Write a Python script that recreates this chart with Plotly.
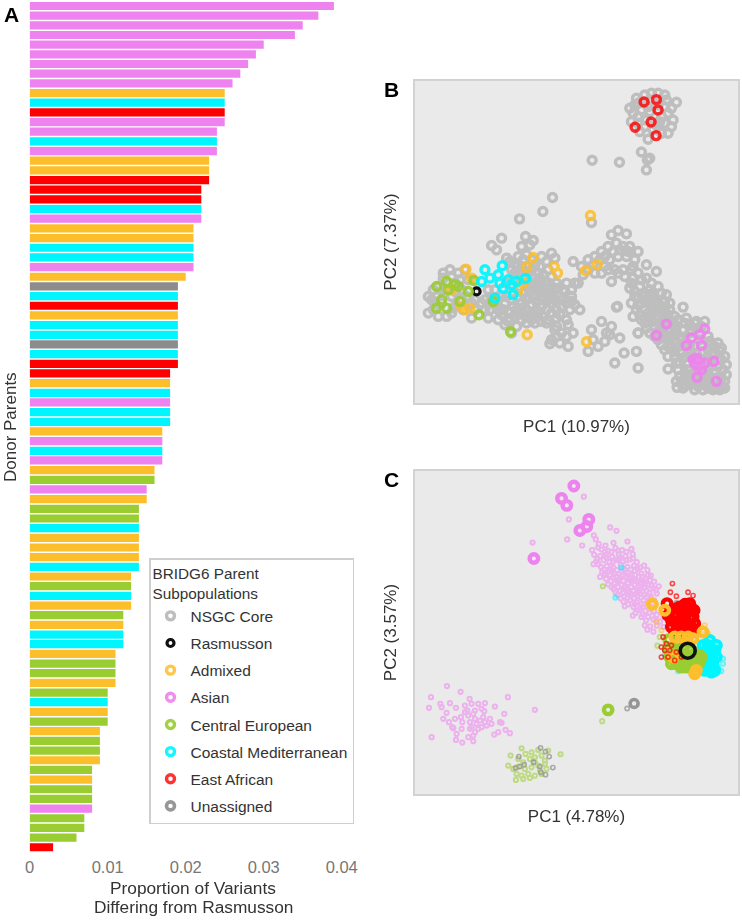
import plotly.graph_objects as go

W = 742
H = 920
FONT = 'Liberation Sans'

colors = {
    'core': '#BEBEBE', 'ras': '#111111', 'adm': '#FDBE2B', 'asn': '#EE82EE',
    'ceu': '#9ACD32', 'med': '#00F5FF', 'eaf': '#FF0000', 'una': '#8C8C8C',
}

# panel A, top to bottom
bar_values = [
    .039, .037, .035, .034, .030, .029, .028, .027, .026, .025, .025, .025, .025, .024, .024, .024,
    .023, .023, .023, .022, .022, .022, .022, .021, .021, .021, .021, .021, .020, .019, .019, .019,
    .019, .019, .019, .019, .019, .019, .018, .018, .018, .018, .018, .018, .017, .017, .017, .017,
    .016, .016, .015, .015, .014, .014, .014, .014, .014, .014, .014, .013, .013, .013, .013, .012,
    .012, .012, .012, .011, .011, .011, .011, .010, .010, .010, .010, .009, .009, .009, .009, .008,
    .008, .008, .008, .008, .007, .007, .006, .003,
]
bar_groups = [
    'asn', 'asn', 'asn', 'asn', 'asn', 'asn', 'asn', 'asn', 'asn', 'adm', 'med', 'eaf', 'asn', 'asn', 'med', 'asn',
    'adm', 'adm', 'eaf', 'eaf', 'eaf', 'med', 'asn', 'adm', 'adm', 'med', 'med', 'asn', 'adm', 'una', 'med', 'eaf',
    'adm', 'med', 'med', 'una', 'med', 'eaf', 'eaf', 'adm', 'med', 'asn', 'med', 'med', 'adm', 'asn', 'med', 'asn',
    'adm', 'ceu', 'asn', 'adm', 'ceu', 'ceu', 'med', 'adm', 'adm', 'adm', 'med', 'adm', 'ceu', 'med', 'adm', 'ceu',
    'adm', 'med', 'med', 'adm', 'ceu', 'ceu', 'adm', 'ceu', 'med', 'adm', 'ceu', 'adm', 'ceu', 'ceu', 'adm', 'ceu',
    'adm', 'ceu', 'ceu', 'asn', 'ceu', 'ceu', 'ceu', 'eaf',
]
bar_ticks = [0, 0.01, 0.02, 0.03, 0.04]
bar_ticklabels = ['0', '0.01', '0.02', '0.03', '0.04']

# panel B, PC scores (arbitrary units, the axes have no ticks)
b_core = [
    (785,85),(810,75),(870,75),(905,97),(780,105),(830,90),(800,120),(870,110),(770,155),(790,140),(815,150),
    (860,140),(890,170),(795,185),(820,208),(845,165),(880,130),(850,70),(775,130),(825,125),(835,180),(895,150),
    (800,95),(850,105),(820,110),(790,160),(855,155),(765,115),(890,115),(875,90),(830,70),(810,170),(870,160),
    (880,190),(790,100),(860,190),
    (800,246),(825,265),(815,300),(818,270),(652,271),(734,277),(533,383),(504,425),(434,447),(650,458),
    (160,680),(160,730),(175,720),(190,650),(205,610),(225,600),(250,610),(240,640),(200,700),(170,690),(290,745),
    (265,720),(230,730),(290,700),(260,660),(280,630),(230,680),(300,720),(320,700),(210,660),
    (175,660),(185,680),(190,740),(215,740),(205,625),(230,620),(255,630),(260,690),(245,705),(275,680),(300,690),
    (180,700),(240,665),(270,600),(235,715),
    (452,500),(475,512),(440,530),(465,525),(350,527),(380,505),(365,540),(430,560),(455,555),(420,580),(395,565),
    (440,590),(470,600),(495,590),(480,625),(505,615),(530,550),(540,565),(520,600),(545,640),(575,640),(600,640),
    (625,615),(595,575),(520,640),(495,650),(470,650),(445,670),(475,680),(505,680),(530,670),(555,680),(575,700),
    (590,695),(615,720),(585,720),(560,710),(530,700),(500,710),(470,705),(440,700),(415,710),(390,700),(370,720),
    (345,720),(370,750),(390,765),(420,740),(445,735),(475,735),(505,740),(530,730),(555,735),(575,750),(425,770),
    (455,760),(410,790),(400,755),(445,620),(340,660),(420,610),(395,680),(360,660),(330,690),(470,570),(500,560),
    (330,720),(350,690),(380,680),(410,690),(430,680),(455,690),(485,695),(515,695),(545,695),(565,660),(530,650),
    (500,665),(465,665),(435,650),(425,720),(455,720),(485,720),(515,720),(545,720),(400,725),(380,735),(440,750),
    (470,750),(500,755),(360,705),(340,745),(410,600),(435,605),(455,640),(480,640),(510,640),(490,610),(460,610),
    (425,590),(405,575),(445,570),(480,585),(515,575),(550,655),(570,665),(590,660),(610,640),
    (500,690),(520,680),(540,660),(560,690),(590,680),(600,705),(545,745),(520,750),(490,730),(460,735),(430,730),
    (405,745),(385,720),(365,690),(440,715),(415,670),(395,640),(460,680),(490,665),(510,655),(530,620),(500,630),
    (470,620),(415,630),(380,720),(480,760),(515,760),
    (620,590),(640,570),(660,560),(680,545),(700,530),(710,495),(730,482),(755,492),(725,520),(745,530),(765,530),
    (790,545),(780,570),(755,560),(730,560),(705,570),(690,590),(720,600),(745,600),(710,635),(770,600),(815,585),
    (845,605),(790,610),(815,625),(765,655),(795,650),(825,660),(850,650),(790,685),(815,690),(840,685),(875,675),
    (785,720),(810,720),(835,715),(860,710),(885,700),(775,740),(800,750),(825,745),(850,740),(880,735),(790,790),
    (815,775),(840,770),(865,780),(895,760),(925,712),(850,810),(880,810),(905,790),(910,750),(935,745),(965,755),
    (640,600),(655,585),(675,570),(660,610),(690,560),(715,545),(735,540),(760,545),(775,590),(750,620),(730,610),
    (700,600),(680,610),(775,625),(800,630),(830,640),(780,665),(810,670),(835,670),(860,670),(800,700),(825,700),
    (850,700),(870,695),(795,735),(820,730),(845,725),(870,725),(810,760),(835,755),(860,755),(880,760),(825,790),
    (850,785),(880,785),(860,825),(880,830),(905,820),(900,860),(880,860),(925,780),(945,765),(970,775),(930,830),
    (770,700),(790,705),(805,680),(830,680),(850,720),(870,740),(885,720),(900,740),(860,790),(840,800),(870,800),
    (890,800),(870,760),(885,775),(905,770),(890,830),(900,845),(910,830),(780,680),(770,640),
    (990,755),(870,840),(895,840),(880,898),(920,810),(950,780),(1000,800),(1030,820),(1020,850),(1000,840),(945,850),
    (920,850),(915,880),(940,880),(1040,870),(1045,900),(1000,900),(1020,905),(1000,930),(930,910),(950,920),(920,935),
    (945,945),(970,950),(1000,955),(1025,955),(1050,955),(907,953),(985,925),(960,905),(1040,925),(725,712),(728,710),
    (960,830),(1010,825),(1035,845),(1015,875),(1030,890),(1000,870),(940,900),(910,900),(960,930),(1010,945),
    (1035,945),(935,925),
    (900,770),(915,800),(900,810),(930,760),(945,790),(960,760),(980,770),(975,810),(1005,815),(1020,830),(1040,835),
    (1050,860),(1055,885),(1030,870),(1010,855),(985,845),(965,850),(945,825),(925,865),(905,880),(915,920),(905,935),
    (930,945),(950,935),(975,935),(1000,915),(1025,925),(1050,935),(1055,915),(1045,950),(985,960),(960,960),(1015,960),
    (1035,960),(925,955),(950,860),(970,870),(935,860),(1010,890),(985,905),
    (525,822),(540,780),(580,765),(595,790),(580,830),(545,800),(650,780),(680,755),(710,770),(735,805),(690,815),
    (640,845),(670,830),(720,880),(748,850),(785,845),(790,895),(790,790),(560,790),(530,810),(555,820),(545,770),
    (575,800),(695,790),(705,795),(655,810),
]
b_ras = [(305,665)]
b_adm = [
    (273,598),(290,625),(455,592),(475,563),(538,590),(548,610),(632,603),(667,585),(647,437),(457,795),(635,816),
    (430,660),(260,710),(285,715),(270,720),(230,660),(445,640),
]
b_asn = [
    (845,797),(875,763),(935,827),(990,777),(975,795),(950,805),(980,827),(1018,875),(1025,935),(967,923),(960,880),
    (975,880),(990,880),(970,895),(955,870),(980,900),(965,865),
]
b_ceu = [
    (185,650),(215,635),(240,645),(200,690),(185,715),(215,715),(255,695),(280,665),(297,632),(312,735),(355,695),
    (407,786),(220,660),(250,650),
]
b_med = [
    (330,600),(382,588),(320,635),(345,625),(375,640),(400,630),(425,635),(452,626),(360,685),(415,675),(410,645),
    (385,655),(370,615),
]
b_eaf = [(808,96),(845,89),(850,120),(829,156),(781,172),(844,197)]

# panel C, small dots
c_asn_small = [
    (663,238),(657,226),(672,252),(692,256),(716,248),(758,244),(652,270),(680,268),(700,272),(722,264),(742,270),(770,266),
    (658,284),(676,288),(694,284),(712,290),(732,282),(752,288),(774,282),(664,304),(686,300),(704,306),(722,298),(744,304),
    (764,298),(786,306),(656,312),(678,320),(696,318),(716,322),(738,314),(758,320),(778,316),(796,322),(682,336),(702,334),
    (720,340),(740,332),(760,338),(780,332),(800,340),(818,330),(676,350),(694,356),(714,352),(732,358),(752,350),(772,356),
    (792,350),(812,356),(828,346),(700,372),(720,368),(740,374),(760,368),(780,374),(800,368),(820,374),(838,364),(716,386),
    (736,392),(756,386),(776,392),(796,386),(816,392),(836,384),(852,378),(728,404),(748,408),(768,402),(788,408),(808,402),
    (828,408),(846,400),(746,424),(766,420),(786,426),(806,420),(826,416),(750,438),(776,440),(796,444),(816,438),(838,452),
    (782,458),(804,462),(824,458),(846,464),(866,470),(774,466),(814,480),(836,478),(856,484),(826,498),(846,496),(866,500),
    (818,508),(836,514),(473,247),(627,110),(582,178),(577,238),(622,256),(706,202),(725,212),(730,300),(735,296),(745,345),
    (770,380),(790,395),(710,330),(690,340),(750,330),(770,345),(790,365),(810,380),(730,365),(760,395),(805,440),(830,440),
    (670,262),(690,275),(710,275),(730,272),(755,275),(668,295),(695,292),(715,305),(735,292),(755,300),(775,295),(670,312),
    (688,328),(707,326),(727,330),(748,326),(768,328),(788,326),(808,316),(688,345),(706,345),(724,348),(742,346),(762,346),
    (782,344),(802,350),(820,345),(708,362),(726,360),(746,362),(766,360),(786,360),(806,362),(826,360),(710,380),(730,380),
    (750,380),(770,362),(790,380),(810,372),(830,376),(722,396),(744,398),(764,396),(784,400),(804,394),(824,398),(844,390),
    (738,415),(758,414),(778,414),(798,412),(818,412),(838,420),(760,432),(780,432),(800,432),(820,428),(790,450),(812,452),
    (832,466),(800,470),(820,470),(845,480),(810,495),
    (216,677),(257,694),(168,710),(196,730),(399,710),(162,742),(200,740),(225,728),(243,742),(284,715),(270,735),(290,730),
    (310,730),(330,728),(320,745),(300,750),(360,738),(270,755),(280,765),(295,760),(215,757),(240,775),(262,785),(285,785),
    (305,790),(325,770),(345,775),(388,760),(350,790),(380,787),(480,748),(222,785),(232,800),(260,805),(245,820),(290,800),
    (300,815),(320,800),(335,795),(295,825),(170,830),(243,838),(262,846),(295,842),(280,830),(358,822),(370,815),(392,808),
    (405,818),(375,785),(328,752),(277,750),(300,775),(315,780),(330,785),(205,775),(258,770),(235,803),(285,805),(310,805),
]
c_ceu_small = [
    (440,863),(557,881),(407,885),(452,880),(470,875),(490,868),(500,885),(520,870),(430,895),(445,905),(465,895),(480,890),
    (510,900),(400,915),(415,925),(430,918),(450,925),(470,920),(490,915),(510,910),(425,940),(440,945),(460,940),(480,945),
    (500,940),(423,958),(465,952),(445,955),(495,930),(515,925),(480,905),(682,782),(684,378),(848,556),(855,530),
]
c_una_small = [
    (432,888),(422,922),(435,918),(448,912),(476,905),(495,918),(498,935),(512,942),(534,921),(523,888),(512,873),(497,862),
    (757,744),(905,428),
]
c_med_small = [(740,322),(722,412),(1045,595),(1040,632),(1045,610),(1030,620),(1030,570),(1022,640),(870,585),(910,632)]
c_adm_small = [(990,495),(985,510),(1000,520),(845,485),(860,510),(1000,545),(870,560),(925,625)]
c_eaf_small = [
    (893,370),(905,408),(955,406),(940,396),(887,396),(865,530),(875,550),(870,570),(885,570),(880,590),(900,600),(860,560),
    (890,555),(920,590),(905,575),(860,590),
]

# panel C, large rings
c_adm = [(833,432),(870,450),(940,530),(920,530),(965,630),(985,515),(895,590),(955,535),(900,530),(960,640)]
c_med = [
    (1000,555),(990,580),(1010,580),(985,610),(1005,610),(1010,635),(990,630),(1015,600),(985,555),(1020,570),
    (1000,570),(1015,615),(1000,625),(1025,590),(975,600),(1005,540),(1025,555),(995,595),(1020,630),
]
c_eaf = [
    (905,445),(925,450),(950,445),(945,475),(915,480),(890,500),(920,505),(945,500),(900,465),(955,470),(935,495),(905,510),
    (955,505),(890,480),(940,450),(930,515),(900,520),(925,465),(905,490),(880,465),(950,515),(960,490),(958,450),(945,430),
    (915,440),(877,430),(931,432),
]
c_ceu = [
    (885,590),(915,600),(940,610),(960,600),(975,605),(930,585),(950,570),(905,610),(925,565),(900,570),(890,610),(935,620),
    (965,615),(980,590),(915,575),(945,590),(960,580),(930,610),(905,590),(880,565),(975,585),(920,620),
    (882,538),(908,543),(700,748),
]
c_asn = [(597,78),(560,115),(576,136),(642,178),(636,199),(615,211),(477,295)]
c_una = [(778,729)]
c_ras = [(939,571)]

legend_labels = {
    'core': 'NSGC Core', 'ras': 'Rasmusson', 'adm': 'Admixed', 'asn': 'Asian',
    'ceu': 'Central European', 'med': 'Coastal Mediterranean', 'eaf': 'East African', 'una': 'Unassigned',
}
legend_order = ['core', 'ras', 'adm', 'asn', 'ceu', 'med', 'eaf', 'una']


def rings(points, group, axis, size, width, opacity=1.0, legend=False):
    return go.Scatter(
        x=[p[0] for p in points], y=[p[1] for p in points],
        xaxis='x' + axis, yaxis='y' + axis,
        mode='markers', name=legend_labels[group],
        legendgroup=group, showlegend=legend, legendrank=legend_order.index(group) + 1,
        opacity=opacity, hoverinfo='skip',
        marker=dict(symbol='circle-open', size=size, color=colors[group], line=dict(width=width)),
    )


fig = go.Figure()

fig.add_trace(go.Bar(
    x=bar_values, y=list(range(len(bar_values))), orientation='h', width=0.85,
    marker=dict(color=[colors[g] for g in bar_groups], line=dict(width=0)),
    showlegend=False, hoverinfo='skip',
))

# panel B
big_b = dict(axis='2', size=8, width=3.4)
fig.add_trace(rings(b_core, 'core', legend=True, **big_b))
fig.add_trace(rings(b_ras, 'ras', axis='2', size=7, width=3.2, legend=True))
fig.add_trace(rings(b_adm, 'adm', opacity=0.85, legend=True, **big_b))
fig.add_trace(rings(b_asn, 'asn', opacity=0.9, legend=True, **big_b))
fig.add_trace(rings(b_ceu, 'ceu', opacity=0.9, legend=True, **big_b))
fig.add_trace(rings(b_med, 'med', opacity=0.9, legend=True, **big_b))
fig.add_trace(rings(b_eaf, 'eaf', opacity=0.8, legend=True, **big_b))

# panel C
small_c = dict(axis='3', size=4.2, width=2, opacity=0.55)
big_c = dict(axis='3', size=8.5, width=4.4)
fig.add_trace(rings(c_asn_small, 'asn', **small_c))
fig.add_trace(rings(c_ceu_small, 'ceu', **small_c))
fig.add_trace(rings(c_una_small, 'una', axis='3', size=4.2, width=1.6, opacity=0.7))
fig.add_trace(rings(c_med_small, 'med', **small_c))
fig.add_trace(rings(c_adm_small, 'adm', **small_c))
fig.add_trace(rings(c_med, 'med', **big_c))
fig.add_trace(rings(c_eaf, 'eaf', **big_c))
fig.add_trace(rings(c_ceu, 'ceu', **big_c))
fig.add_trace(rings(c_adm, 'adm', **big_c))
fig.add_trace(rings(c_eaf_small, 'eaf', axis='3', size=4.2, width=1.6, opacity=0.7))
fig.add_trace(rings(c_asn, 'asn', **big_c))
fig.add_trace(rings(c_una, 'una', axis='3', size=8, width=3.6, opacity=0.9, legend=True))
fig.add_trace(rings(c_ras, 'ras', axis='3', size=15, width=3.6))

panel = dict(
    showgrid=False, zeroline=False, showticklabels=False, ticks='',
    showline=True, mirror=True, linecolor='#D2D2D2', linewidth=1.5,
)
title_font = dict(family=FONT, size=17, color='#333333')

fig.update_layout(
    width=W, height=H, margin=dict(l=0, r=0, t=0, b=0, autoexpand=False),
    paper_bgcolor='white', plot_bgcolor='#EAEAEA',
    font=dict(family=FONT, size=15, color='#333333'),
    bargap=0.15,
    xaxis=dict(
        domain=[29.7 / W, 345 / W], range=[0, 0.04042], anchor='y',
        tickvals=bar_ticks, ticktext=bar_ticklabels, ticks='', showgrid=False, zeroline=False,
        tickfont=dict(family=FONT, size=16.5, color='#777777'), showline=False,
    ),
    yaxis=dict(
        domain=[1 - 855 / H, 1], range=[87.8, -0.62], anchor='x',
        showticklabels=False, ticks='', showgrid=False, zeroline=False,
    ),
    xaxis2=dict(panel, domain=[415 / W, 738 / W], range=[120, 1090], anchor='y2',
                title=dict(text='PC1 (10.97%)', font=title_font, standoff=16)),
    yaxis2=dict(panel, domain=[1 - 403 / H, 1 - 81 / H], range=[1000, 33], anchor='x2',
                title=dict(text='PC2 (7.37%)', font=title_font, standoff=12)),
    xaxis3=dict(panel, domain=[415 / W, 738 / W], range=[120, 1090], anchor='y3',
                title=dict(text='PC1 (4.78%)', font=title_font, standoff=15)),
    yaxis3=dict(panel, domain=[1 - 794 / H, 1 - 471 / H], range=[1000, 33], anchor='x3',
                title=dict(text='PC2 (3.57%)', font=title_font, standoff=12)),
    legend=dict(
        x=149 / W, y=1 - 558 / H, xanchor='left', yanchor='top',
        bgcolor='white', bordercolor='#CFCFCF', borderwidth=1.5,
        font=dict(family=FONT, size=15.5, color='#333333'),
        title=dict(text='BRIDG6 Parent<br>Subpopulations', font=dict(family=FONT, size=15.3, color='#333333')),
        tracegroupgap=4, itemsizing='trace', itemclick=False, entrywidth=160,
    ),
    annotations=[
        dict(text='<b>A</b>', x=11 / W, y=1 - 14 / H),
        dict(text='<b>B</b>', x=391 / W, y=1 - 89 / H),
        dict(text='<b>C</b>', x=391 / W, y=1 - 479 / H),
        dict(text='Proportion of Variants', x=193 / W, y=1 - 888 / H,
             font=dict(family=FONT, size=17.3, color='#333333')),
        dict(text='Differing from Rasmusson', x=193 / W, y=1 - 907 / H,
             font=dict(family=FONT, size=17.3, color='#333333')),
        dict(text='Donor Parents', x=10 / W, y=1 - 427 / H, textangle=-90,
             font=dict(family=FONT, size=17, color='#333333')),
    ],
)
fig.update_annotations(xref='paper', yref='paper', showarrow=False, xanchor='center', yanchor='middle')
for a in fig.layout.annotations[:3]:
    a.font = dict(family=FONT, size=21, color='black')

# plot_bgcolor is grey for the PC panels, so panel A gets a white rectangle under its bars
fig.add_shape(type='rect', xref='x domain', yref='y domain', x0=0, x1=1, y0=0, y1=1,
              fillcolor='white', line_width=0, layer='below')

# the page's default body margin would push the figure 8px in
fig.write_html("out.html", config={'displayModeBar': False},
               post_script="document.body.style.margin = '0';")
